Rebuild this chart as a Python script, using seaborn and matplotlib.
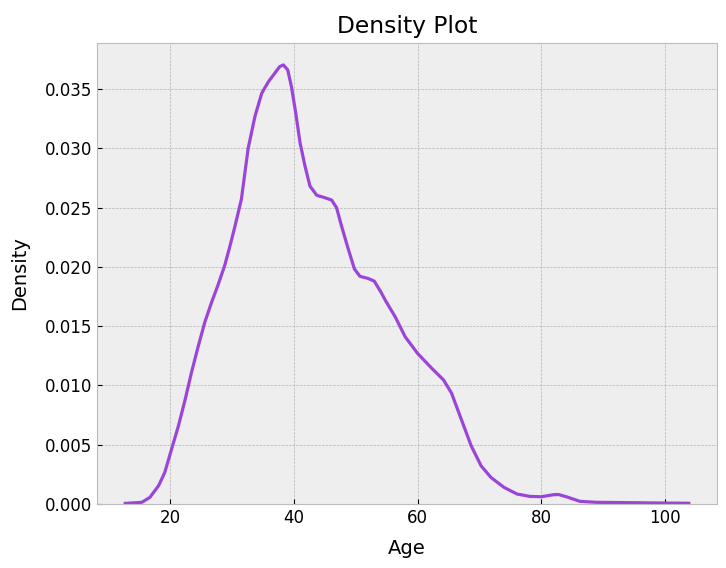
import matplotlib
matplotlib.use("Agg")
import matplotlib.pyplot as plt
import seaborn as sns

# Density curve
age = [12.7, 15.4, 16.7, 18.1, 19.1, 20.2, 21.3, 22.4, 23.4, 24.5,
       25.6, 26.7, 27.7, 28.8, 29.6, 30.4, 31.5, 32.6, 33.7, 34.8,
       35.9, 36.9, 37.7, 38.3, 39.0, 39.6, 40.3, 41.0, 41.8, 42.6,
       43.7, 45.0, 46.1, 46.9, 47.7, 48.8, 49.8, 50.7, 52.0, 53.0,
       54.1, 54.8, 56.4, 58.0, 60.0, 62.3, 64.2, 65.5, 67.1, 68.7,
       70.3, 71.9, 74.0, 76.1, 78.2, 80.0, 82.0, 82.8, 84.2, 86.3,
       89.0, 94.4, 99.7, 103.9]
density = [0.00005, 0.00014, 0.00056, 0.00154, 0.00265, 0.00461, 0.00656, 0.00880, 0.01103, 0.01327,
           0.01536, 0.01704, 0.01844, 0.02011, 0.02165, 0.02329, 0.02570, 0.03000, 0.03270, 0.03466,
           0.03564, 0.03634, 0.03690, 0.03704, 0.03662, 0.03522, 0.03298, 0.03046, 0.02850, 0.02682,
           0.02604, 0.02584, 0.02564, 0.02500, 0.02346, 0.02150, 0.01982, 0.01920, 0.01903, 0.01880,
           0.01786, 0.01718, 0.01578, 0.01411, 0.01271, 0.01145, 0.01047, 0.00936, 0.00712, 0.00489,
           0.00321, 0.00223, 0.00140, 0.00084, 0.00064, 0.00061, 0.00078, 0.00080, 0.00059, 0.00022,
           0.00014, 0.00011, 0.00008, 0.00006]

plt.style.use("bmh")
plt.rcParams["font.size"] = 12

fig = plt.figure(figsize=(7.26, 5.68), dpi=100)
ax = fig.add_axes([0.1336, 0.1127, 0.854, 0.8116])

sns.lineplot(x=age, y=density, color="#9B45D8", linewidth=2.3, ax=ax)
ax.set_ylim(bottom=0)

ax.set_title("Density Plot", fontsize=16.8, pad=7)
ax.set_xlabel("Age", fontsize=14, labelpad=9)
ax.set_ylabel("Density", fontsize=14, labelpad=11)
ax.tick_params(labelsize=12)

plt.savefig("out.png", dpi=100)
